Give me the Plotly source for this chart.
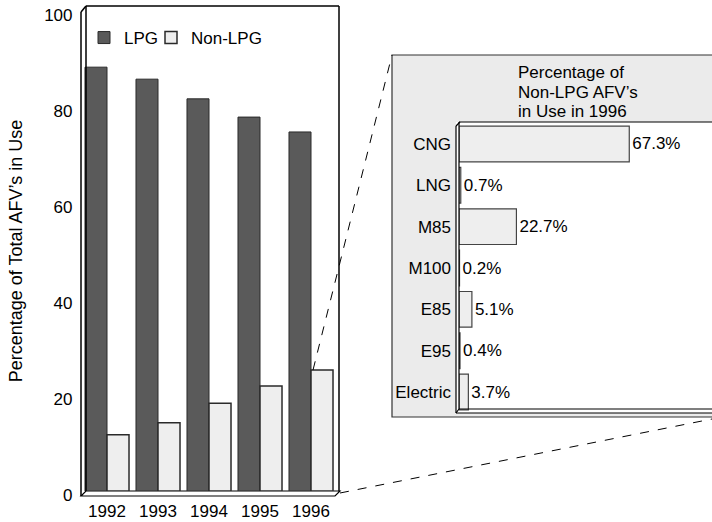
import plotly.graph_objects as go

# ---- data -------------------------------------------------------------
years = ["1992", "1993", "1994", "1995", "1996"]
lpg_share = [88.3, 85.8, 81.7, 77.9, 74.8]
non_lpg_share = [11.7, 14.2, 18.3, 21.9, 25.2]

fuels = ["CNG", "LNG", "M85", "M100", "E85", "E95", "Electric"]
fuel_share_1996 = [67.3, 0.7, 22.7, 0.2, 5.1, 0.4, 3.7]

y_ticks = [0, 20, 40, 60, 80, 100]
inset_title = ["Percentage of", "Non-LPG AFV’s", "in Use in 1996"]

# ---- page geometry (pixels -> paper) ---------------------------------
W, H = 712, 522
FONT = "Liberation Sans, Arial, Helvetica, sans-serif"


def px(x):
    return x / W


def py(y):
    return (H - y) / H


# main chart plot box (pixels)
L_X0, L_X1 = 81.5, 336.5
L_Y0, L_Y1 = 491, 11          # y of value 0 and value 100
# inset chart plot box (pixels)
R_X0 = 459
R_Y0, R_Y1 = 412.7, 123.3

fig = go.Figure()

fig.add_trace(go.Bar(
    x=years, y=lpg_share, name="LPG", legend="legend",
    marker=dict(color="#5a5a5a", line=dict(color="#2a2a2a", width=1)),
    xaxis="x", yaxis="y",
))
fig.add_trace(go.Bar(
    x=years, y=non_lpg_share, name="Non-LPG", legend="legend2",
    marker=dict(color="#eeeeee", line=dict(color="#2a2a2a", width=1.5)),
    xaxis="x", yaxis="y",
))
fig.add_trace(go.Bar(
    x=fuel_share_1996, y=fuels, orientation="h", showlegend=False,
    marker=dict(color="#eeeeee", line=dict(color="#444444", width=1.2)),
    text=[f"{v}%" for v in fuel_share_1996], textposition="outside",
    textfont=dict(size=17, color="black", family=FONT),
    cliponaxis=False,
    xaxis="x2", yaxis="y2",
))

shapes = []


def seg(x0, y0, x1, y1, width=1.5, color="black", dash=None, layer="above"):
    shapes.append(dict(type="line", xref="paper", yref="paper",
                       x0=px(x0), y0=py(y0), x1=px(x1), y1=py(y1),
                       line=dict(color=color, width=width, dash=dash),
                       layer=layer))


# inset panel: grey backdrop and white plotting well
shapes.append(dict(type="rect", xref="paper", yref="paper",
                   x0=px(392), y0=py(417), x1=px(730), y1=py(55),
                   fillcolor="#ebebeb", line=dict(color="#333333", width=1.2),
                   layer="below"))
shapes.append(dict(type="rect", xref="paper", yref="paper",
                   x0=px(456), y0=py(413), x1=px(730), y1=py(122),
                   fillcolor="white", line=dict(width=0), layer="below"))
# inset frame with slight depth
seg(456, 126, 456, 413, 1.2)
seg(459, 122, 459, 409, 1.2)
seg(456, 126, 460, 122, 1.2)
seg(459, 122, 712, 122, 1.2)
seg(459, 409, 712, 409, 1.2)
seg(456, 413, 712, 413, 1.2)
seg(456, 413, 459, 409, 1.2)

# main chart frame with slight depth
seg(81, 12, 81, 496)
seg(86, 6, 86, 491)
seg(81, 12, 86, 6)
seg(86, 6, 339, 6)
seg(339, 6, 339, 491)
shapes.append(dict(type="path", xref="paper", yref="paper",
                   path=(f"M {px(81)},{py(496)} L {px(86)},{py(491)} "
                         f"L {px(340)},{py(491)} L {px(335)},{py(496)} Z"),
                   fillcolor="white", line=dict(color="black", width=1.2),
                   layer="below"))

# leader lines from the 1996 Non-LPG bar to the inset
pitch = (L_X1 - L_X0) / len(years)
bar_left = L_X0 + pitch * (len(years) - 0.5)
bar_top = L_Y0 - non_lpg_share[-1] / 100 * (L_Y0 - L_Y1)
seg(bar_left + 2, bar_top, 392, 55, 1, dash="dash")
seg(340, 493, 712, 419, 1, dash="dash")

# inset title, one annotation per line
title_rows = [72, 92, 111]
annotations = [dict(
    text=line, xref="paper", yref="paper", x=px(516), y=py(yc),
    xanchor="left", yanchor="middle", align="left", showarrow=False,
    font=dict(size=17, family=FONT, color="black"),
) for line, yc in zip(inset_title, title_rows)]

legend_style = dict(orientation="h", y=py(20), xanchor="left", yanchor="top",
                    bgcolor="rgba(0,0,0,0)", font=dict(size=17))

fig.update_layout(
    width=W, height=H,
    margin=dict(l=0, r=0, t=0, b=0, autoexpand=False),
    paper_bgcolor="white",
    plot_bgcolor="rgba(0,0,0,0)",
    font=dict(family=FONT, size=17, color="black"),
    barmode="group", bargap=0.137, bargroupgap=0,
    showlegend=True,
    legend=dict(x=px(84), **legend_style),
    legend2=dict(x=px(151), **legend_style),
    xaxis=dict(domain=[px(L_X0), px(L_X1)], anchor="y", type="category",
               automargin=False,
               showgrid=False, showline=False, zeroline=False,
               ticks="", ticklabelstandoff=8, tickfont=dict(size=17)),
    yaxis=dict(domain=[py(L_Y0), py(L_Y1)], anchor="x", range=[0, 100],
               automargin=False, ticklabeloverflow="allow",
               tickvals=y_ticks, showgrid=False, showline=False, zeroline=False,
               ticks="", ticklabelstandoff=8, ticklabelshift=4,
               tickfont=dict(size=17),
               title=dict(text="Percentage of Total AFV’s in Use",
                          font=dict(size=18), standoff=16)),
    xaxis2=dict(domain=[px(R_X0), 1.0], anchor="y2", automargin=False,
                range=[0, 100], visible=False),
    yaxis2=dict(domain=[py(R_Y0), py(R_Y1)], anchor="x2", type="category",
                automargin=False,
                categoryorder="array", categoryarray=fuels, autorange="reversed",
                showgrid=False, showline=False, zeroline=False,
                ticks="", ticklabelstandoff=7, tickfont=dict(size=17)),
    shapes=shapes,
    annotations=annotations,
)

fig.write_html("out.html")
